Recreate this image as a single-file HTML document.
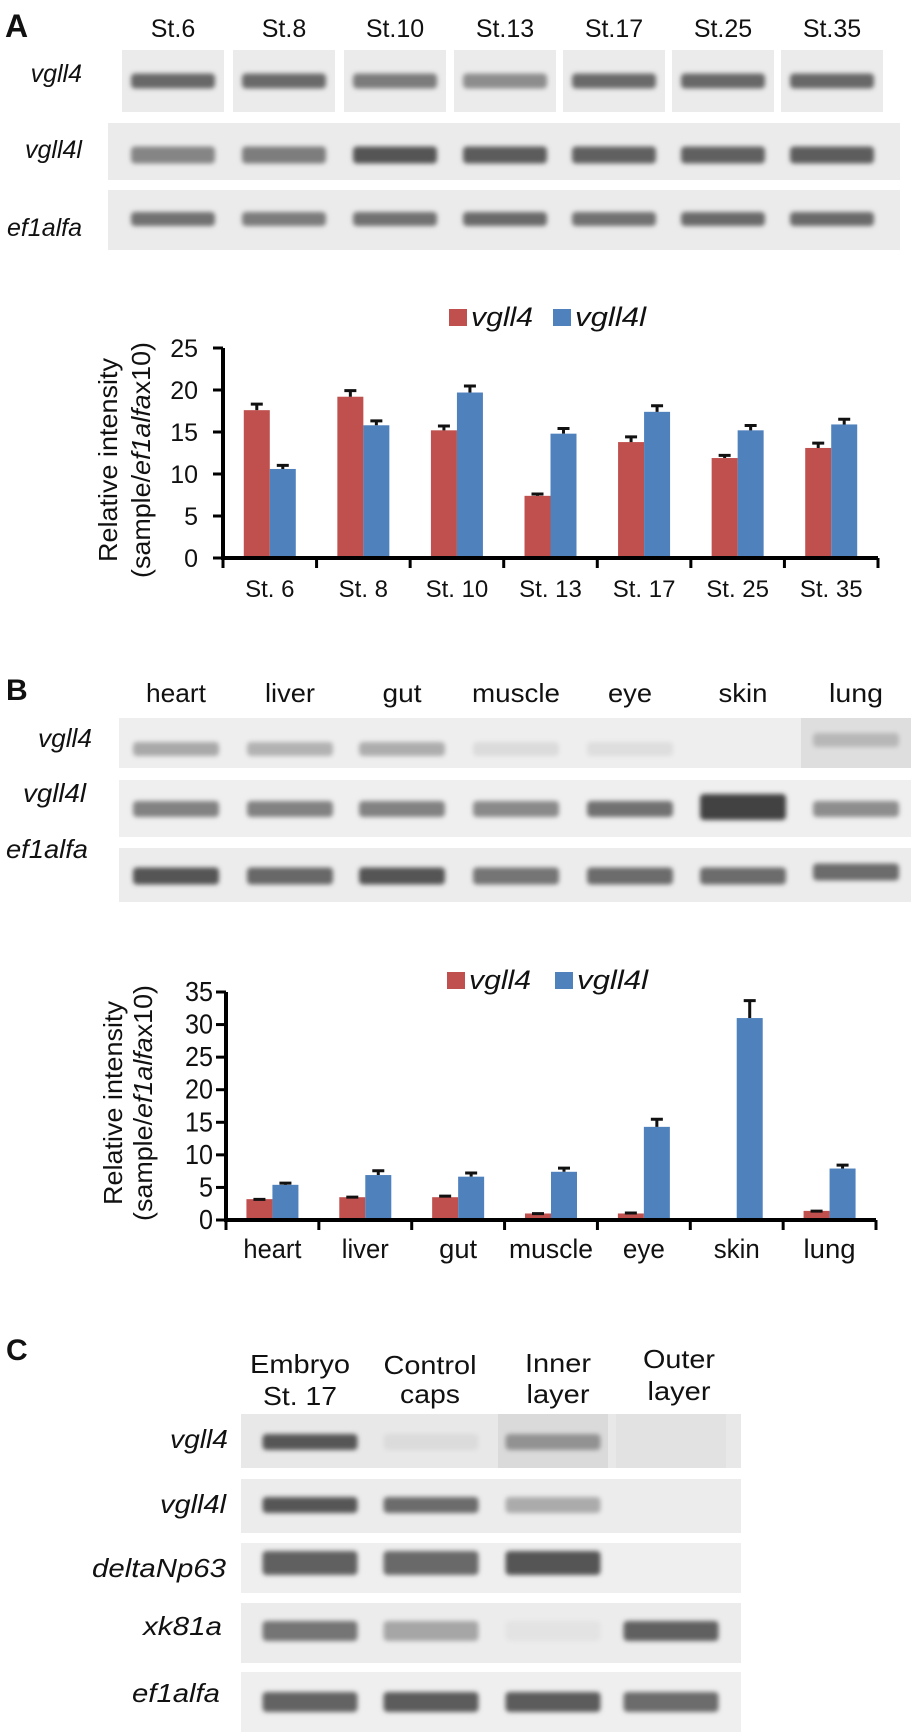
<!DOCTYPE html>
<html><head><meta charset="utf-8">
<style>
html,body{margin:0;padding:0;background:#fff;}
svg{display:block;font-family:"Liberation Sans",Arial,sans-serif;}
</style></head>
<body>
<svg id="fig" width="922" height="1733" viewBox="0 0 922 1733" xmlns="http://www.w3.org/2000/svg">
<defs>
<filter id="blur" x="-20%" y="-100%" width="140%" height="300%"><feGaussianBlur stdDeviation="2.4"/></filter>
</defs>
</svg>
<script>
// ---------- Chart A data ----------
const catsA = ["St. 6","St. 8","St. 10","St. 13","St. 17","St. 25","St. 35"];
const vgll4A = [17.6, 19.2, 15.2, 7.4, 13.8, 11.9, 13.1];
const vgll4lA = [10.6, 15.8, 19.7, 14.8, 17.4, 15.2, 15.9];
const errVgll4A = [0.9, 0.9, 0.7, 0.4, 0.8, 0.5, 0.75];
const errVgll4lA = [0.6, 0.7, 0.95, 0.8, 0.9, 0.75, 0.8];
const ticksA = [0, 5, 10, 15, 20, 25];
// ---------- Chart B data ----------
const catsB = ["heart","liver","gut","muscle","eye","skin","lung"];
const vgll4B = [3.2, 3.5, 3.5, 1.0, 1.0, 0, 1.4];
const vgll4lB = [5.4, 6.9, 6.65, 7.4, 14.3, 31.0, 7.9];
const errVgll4B = [0.2, 0.25, 0.4, 0.2, 0.3, 0, 0.2];
const errVgll4lB = [0.5, 0.9, 0.8, 0.8, 1.4, 2.9, 0.75];
const ticksB = [0, 5, 10, 15, 20, 25, 30, 35];

const NS = "http://www.w3.org/2000/svg";
const svg = document.getElementById('fig');
function mk(tag, attrs, parent) {
  const e = document.createElementNS(NS, tag);
  for (const k in attrs) e.setAttribute(k, attrs[k]);
  (parent || svg).appendChild(e);
  return e;
}
function txt(s, x, y, size, opts, parent) {
  opts = opts || {};
  const t = mk('text', {x: x, y: y, 'font-size': size, fill: '#111', 'text-anchor': opts.anchor || 'start'}, parent);
  if (opts.italic) t.setAttribute('font-style', 'italic');
  if (opts.bold) t.setAttribute('font-weight', 'bold');
  if (opts.len) { t.setAttribute('textLength', opts.len); t.setAttribute('lengthAdjust', 'spacingAndGlyphs'); }
  if (opts.tr) t.setAttribute('transform', opts.tr);
  t.textContent = s;
  return t;
}

// ---------- Gels ----------
function gel(name, x0, x1, rows, lanes, bandW) {
  const g = mk('g', {});
  
  
  rows.forEach((r) => {
    const rg = mk('g', {}, g);
    
    
    if (r.segmented) {
      lanes.forEach((cx) => mk('rect', {x: cx - 51, y: r.y0, width: 102, height: r.y1 - r.y0, fill: r.bg || '#ebebeb'}, rg));
    } else {
      mk('rect', {x: x0, y: r.y0, width: x1 - x0, height: r.y1 - r.y0, fill: r.bg || '#ebebeb'}, rg);
    }
    if (r.laneBg) r.laneBg.forEach((c, i) => { if (c) mk('rect', {x: lanes[i] - 55, y: r.y0, width: 110, height: r.y1 - r.y0, fill: c}, rg); });
    r.ints.forEach((v, i) => {
      if (v <= 0.02) return;
      const lvl = Math.round(232 - v * 165);
      const h = (r.hs && r.hs[i]) || r.h;
      const cy = (r.cys && r.cys[i]) || r.cy;
      const b = mk('rect', {x: lanes[i] - bandW / 2, y: cy - h / 2, width: bandW, height: h, rx: 4, fill: `rgb(${lvl},${lvl},${lvl})`, filter: 'url(#blur)'}, rg);
      
      
    });
  });
}

// Panel A gel
txt('A', 5, 37, 32, {bold: true});
const lanesA = [173, 284, 395, 505, 614, 723, 832];
["St.6","St.8","St.10","St.13","St.17","St.25","St.35"].forEach((s, i) => {
  const t = txt(s, lanesA[i], 37, 25, {anchor: 'middle'});
  
  
});
gel('gel-a', 108, 900, [
  {label: 'vgll4', y0: 50, y1: 112, cy: 81, h: 15, segmented: true, ints: [.78, .76, .66, .55, .76, .78, .78]},
  {label: 'vgll4l', y0: 123, y1: 180, cy: 155, h: 17, ints: [.6, .65, .9, .85, .82, .82, .84]},
  {label: 'ef1alfa', y0: 190, y1: 250, cy: 219, h: 14, ints: [.72, .66, .72, .76, .72, .76, .76]}
], lanesA, 84);
[['vgll4', 82], ['vgll4l', 158], ['ef1alfa', 236]].forEach(([s, y]) => {
  const t = txt(s, 82, y, 25, {italic: true, anchor: 'end'});
  
  
});

// Panel B gel
const lanesB = [176, 290, 402, 516, 630, 743, 856];
txt('B', 6, 700, 30, {bold: true});
const labB = ["heart","liver","gut","muscle","eye","skin","lung"];
const widB = [60, 50, 39, 88, 44, 49, 54];
labB.forEach((s, i) => {
  const t = txt(s, lanesB[i], 702, 26, {anchor: 'middle', len: widB[i]});
  
  
});
gel('gel-b', 119, 911, [
  {label: 'vgll4', y0: 718, y1: 768, cy: 749, h: 14, bg: '#eeeeee', laneBg: [0,0,0,0,0,0,'#dedede'], cys: [0,0,0,0,0,0,740], ints: [.38, .33, .36, .08, .06, 0, .3]},
  {label: 'vgll4l', y0: 780, y1: 837, cy: 809, h: 16, bg: '#efefef', hs: [0,0,0,0,0,26,0], cys: [0,0,0,0,0,807,0], ints: [.62, .62, .62, .57, .72, 1.0, .55]},
  {label: 'ef1alfa', y0: 848, y1: 902, cy: 876, h: 17, bg: '#ececec', cys: [0,0,0,0,0,0,872], ints: [.9, .78, .9, .7, .75, .75, .75]}
], lanesB, 86);
[['vgll4', 92, 747, 54], ['vgll4l', 86, 802, 63], ['ef1alfa', 88, 858, 82]].forEach(([s, x, y, w]) => {
  const t = txt(s, x, y, 26, {italic: true, anchor: 'end', len: w});
  
  
});

// Panel C gel
txt('C', 6, 1360, 30, {bold: true});
const lanesC = [310, 431, 553, 671];
[['Embryo', 300, 1373, 100], ['St. 17', 300, 1405, 74], ['Control', 430, 1374, 93], ['caps', 430, 1403, 60],
 ['Inner', 558, 1372, 66], ['layer', 558, 1403, 63], ['Outer', 679, 1368, 72], ['layer', 679, 1400, 63]].forEach(([s, x, y, w]) => {
  const t = txt(s, x, y, 26, {anchor: 'middle', len: w});
  
  
});
gel('gel-c', 241, 741, [
  {label: 'vgll4', y0: 1414, y1: 1468, cy: 1442, h: 16, bg: '#e8e8e8', laneBg: [0,0,'#dadada','#e2e2e2'], ints: [.88, .08, .52, 0]},
  {label: 'vgll4l', y0: 1479, y1: 1533, cy: 1505, h: 16, bg: '#ececec', ints: [.88, .75, .37, 0]},
  {label: 'deltaNp63', y0: 1543, y1: 1593, cy: 1563, h: 24, bg: '#efefef', ints: [.82, .77, .9, 0]},
  {label: 'xk81a', y0: 1603, y1: 1663, cy: 1631, h: 20, bg: '#ececec', ints: [.7, .4, .03, .82]},
  {label: 'ef1alfa', y0: 1672, y1: 1732, cy: 1702, h: 20, bg: '#efefef', ints: [.8, .85, .85, .75]}
], lanesC, 95);
[['vgll4', 228, 1448, 58], ['vgll4l', 226, 1513, 66], ['deltaNp63', 226, 1577, 134], ['xk81a', 222, 1635, 79], ['ef1alfa', 220, 1702, 88]].forEach(([s, x, y, w]) => {
  const t = txt(s, x, y, 26, {italic: true, anchor: 'end', len: w});
  
  
});

// ---------- Bar charts ----------
function barChart(cfg) {
  const g = mk('g', {});
  
  
  const n = cfg.cats.length;
  const cw = (cfg.x1 - cfg.x0) / n;
  const yOf = v => cfg.yZero - (v / cfg.yMax) * (cfg.yZero - cfg.yTop);
  const xOf = i => cfg.x0 + cw * (i + 0.5);
  const bw = 26;
  const series = [
    {vals: cfg.s1, errs: cfg.e1, color: '#c0504d', off: -bw, name: 'vgll4'},
    {vals: cfg.s2, errs: cfg.e2, color: '#4f81bd', off: 0, name: 'vgll4l'}
  ];
  series.forEach(s => {
    s.vals.forEach((v, i) => {
      if (v <= 0) return;
      const x = xOf(i) + s.off;
      const r = mk('rect', {x: x, y: yOf(v), width: bw, height: cfg.yZero - yOf(v), fill: s.color}, g);
      
      
      const ye = yOf(v + s.errs[i]);
      const cx = x + bw / 2;
      const eb = mk('path', {d: `M${cx},${yOf(v)}V${ye}M${cx - 6},${ye + 1.5}H${cx + 6}`, stroke: '#111', 'stroke-width': 3, fill: 'none'}, g);
      
      
    });
  });
  const ax = mk('path', {d: `M${cfg.x0},${cfg.yTop}V${cfg.yZero}H${cfg.x1}`, stroke: '#000', 'stroke-width': 4, fill: 'none'}, g);
  
  
  cfg.ticks.forEach(t => {
    const y = yOf(t);
    mk('line', {x1: cfg.x0 - 10, x2: cfg.x0, y1: y, y2: y, stroke: '#000', 'stroke-width': 3}, g);
    const lb = txt(String(t), cfg.tickX, y + 9, cfg.tickSize, {anchor: 'end', len: cfg.tickLen ? cfg.tickLen * String(t).length : undefined}, g);
    
    
  });
  for (let i = 0; i <= n; i++) {
    const x = cfg.x0 + cw * i;
    mk('line', {x1: x, x2: x, y1: cfg.yZero, y2: cfg.yZero + 10, stroke: '#000', 'stroke-width': 3}, g);
  }
  cfg.cats.forEach((c, i) => {
    const lb = txt(c, xOf(i), cfg.catY, cfg.catSize, {anchor: 'middle', len: cfg.catLens ? cfg.catLens[i] : undefined}, g);
    
    
  });
  const t1 = txt('Relative intensity', 0, 0, 26, {anchor: 'middle', len: cfg.t1len, tr: `translate(${cfg.t1x},${cfg.tyc}) rotate(-90)`}, g);
  
  
  const t2 = mk('text', {x: 0, y: 0, 'font-size': 26, fill: '#111', 'text-anchor': 'middle', textLength: cfg.t2len, lengthAdjust: 'spacingAndGlyphs', transform: `translate(${cfg.t2x},${cfg.tyc}) rotate(-90)`}, g);
  
  
  t2.innerHTML = '(sample/<tspan font-style="italic">ef1alfa</tspan>x10)';
  const lg = mk('g', {}, g);
  
  
  const le1 = mk('rect', {x: cfg.legX1, y: cfg.legY, width: 18, height: 17, fill: '#c0504d'}, lg);
  
  txt('vgll4', cfg.legX1 + 22, cfg.legY + 17, 27, {italic: true, len: 62}, lg);
  const le2 = mk('rect', {x: cfg.legX2, y: cfg.legY, width: 18, height: 17, fill: '#4f81bd'}, lg);
  
  txt('vgll4l', cfg.legX2 + 22, cfg.legY + 17, 27, {italic: true, len: 71}, lg);
}

barChart({name: 'chart-a', cats: catsA, s1: vgll4A, s2: vgll4lA, e1: errVgll4A, e2: errVgll4lA, ticks: ticksA,
  x0: 223, x1: 878, yZero: 558, yTop: 348, yMax: 25, tickX: 198, tickSize: 25,
  catY: 597, catSize: 24, t1x: 117, t2x: 150, tyc: 460, t1len: 204, t2len: 236,
  legX1: 449, legX2: 553, legY: 309});
barChart({name: 'chart-b', cats: catsB, s1: vgll4B, s2: vgll4lB, e1: errVgll4B, e2: errVgll4lB, ticks: ticksB,
  x0: 226, x1: 876, yZero: 1220, yTop: 992, yMax: 35, tickX: 213, tickSize: 28, tickLen: 14,
  catY: 1258, catSize: 27, catLens: [58, 47, 38, 84, 42, 46, 52], t1x: 122, t2x: 152, tyc: 1103, t1len: 204, t2len: 236,
  legX1: 447, legX2: 555, legY: 972});
</script>
</body></html>
